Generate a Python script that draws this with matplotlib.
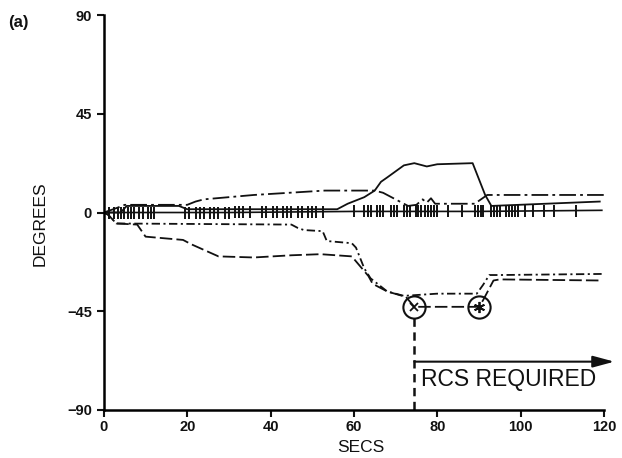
import matplotlib
matplotlib.use("Agg")
import matplotlib.pyplot as plt
import numpy as np

plt.rcParams['font.family'] = ['Liberation Sans', 'DejaVu Sans']
plt.rcParams['lines.scale_dashes'] = False

# trace with tick marks (secs, degrees)
hatch_t = [0, 30, 60, 90, 119.5]
hatch_v = [0, 0, 0.5, 0.5, 1]
hatch_ticks = [1.2, 2.4, 3.4, 4.1, 4.9, 5.8, 6.6, 7.3, 8.5, 9.5, 10.7, 11.4, 12.1,
               19.5, 20.5, 22, 23, 24, 25.5, 26.5, 27.5, 29, 30, 31.5, 32.5, 33.5, 35,
               38, 39, 40.5, 41.5, 43, 44, 45, 46.5, 47.5, 49, 50, 51, 52.5,
               60, 62.5, 63.3, 64, 65.5, 66.2, 67, 69, 69.7, 70.4, 72, 72.7, 73.4,
               74.8, 75.5, 76.2, 77, 77.7, 78.5, 79.3, 80,
               82.5, 86, 89, 89.7, 90.4, 91, 93, 93.7, 94.4, 95.1, 96.5, 97.2, 97.9,
               98.6, 99.3, 101, 103, 105.6, 108, 113.3]

# upper dash-dot trace
dashdot_t = [0, 3, 5, 20, 22, 24, 36, 53, 65, 67, 69, 71, 73, 75, 76.5, 77.5,
             78.5, 79.5, 81, 89, 90.5, 92, 120]
dashdot_v = [0, 2, 3.5, 3.5, 5, 6, 8, 10, 10, 9, 7, 5, 3, 3.5, 6, 4.5,
             6.5, 4, 4, 4, 6, 8, 8]

# upper solid trace
solid_t = [0, 4, 5.5, 18, 20, 56, 58.5, 62.5, 65, 66.5, 68, 72, 74.5, 77.5,
           80, 88.5, 91.5, 93, 119]
solid_v = [0, 0, 3, 3, 1.5, 1.5, 4, 7, 10, 14, 16, 21.5, 22.5, 21,
           22, 22.5, 8, 3, 5]

# lower dash-dot-dot trace
dotdot_t = [0, 1, 3, 45, 46.5, 48, 52.5, 53.5, 59.5, 60.5, 62.5, 64, 66,
            68, 72, 80, 89.5, 91, 92.5, 95, 120]
dotdot_v = [0, -1, -5, -5.5, -7, -8, -8.5, -13, -14, -16, -25.5, -30, -33,
            -36, -38, -37, -37, -33, -28.5, -28.5, -28]

# lower long-dash trace
longdash_t = [0, 1, 3, 8, 10, 19, 21, 27.5, 36, 45, 52, 59.5, 61.5, 63.5,
              64.5, 68, 72.5, 74.5, 90, 91, 93.5, 95, 119.5]
longdash_v = [0, -1, -5, -5.5, -11, -12.5, -14.5, -20, -20.5, -19.5, -19, -20,
              -24.5, -29, -32.5, -36, -38.5, -43, -43, -40, -31, -30.5, -31]

circle_t = [74.5, 90]
circle_v = [-43, -43]

rcs_t = 74.5
rcs_level = -68
rcs_end = 122.5

ink = '#111111'

fig = plt.figure(figsize=(6.22, 4.58), dpi=100)
ax = fig.add_axes([0.167, 0.105, 0.824, 0.862])

ax.plot(hatch_t, hatch_v, color=ink, lw=1.2)
ax.plot(hatch_ticks, np.interp(hatch_ticks, hatch_t, hatch_v), ls='none',
        marker='|', ms=8, mew=1.4, color=ink)

ax.plot(dashdot_t, dashdot_v, color=ink, lw=1.3, dashes=(12, 3, 2, 3))
ax.plot(solid_t, solid_v, color=ink, lw=1.3)
ax.plot(dotdot_t, dotdot_v, color=ink, lw=1.3, dashes=(6, 2.5, 1.5, 2.5))
ax.plot(longdash_t, longdash_v, color=ink, lw=1.3, dashes=(9, 3))

ax.plot(circle_t, circle_v, ls='none', marker='o', ms=16, mfc='none',
        mec=ink, mew=1.5)
ax.plot(circle_t[:1], circle_v[:1], ls='none', marker='x', ms=6, mew=1.3, color=ink)
ax.plot(circle_t[1:], circle_v[1:], ls='none', marker=(6, 2, 0), ms=8, mew=1.3, color=ink)

# RCS marker
ax.plot([rcs_t, rcs_t], [circle_v[0] - 5, -90], color=ink, lw=1.8, dashes=(6, 4))
ax.annotate('', xy=(rcs_end, rcs_level), xytext=(rcs_t, rcs_level),
            arrowprops=dict(arrowstyle='-|>,head_length=1.3,head_width=0.35',
                            lw=1.5, color=ink, mutation_scale=10, shrinkA=0, shrinkB=0),
            annotation_clip=False)
ax.text(rcs_t + 1.5, -76, 'RCS REQUIRED', fontsize=16.5, va='center', ha='left', color=ink)

ax.set_xlim(0, 123)
ax.set_ylim(-90, 90)
ax.spines['top'].set_visible(False)
ax.spines['right'].set_visible(False)
ax.spines['left'].set_linewidth(1.8)
ax.spines['bottom'].set_linewidth(1.8)
ax.spines['bottom'].set_bounds(0, 120)
ax.set_xticks([0, 20, 40, 60, 80, 100, 120])
ax.set_yticks([-90, -45, 0, 45, 90])
ax.set_yticklabels(['\u221290', '\u221245', '0', '45', '90'])
ax.tick_params(direction='out', length=5, width=1.5, labelsize=10.5, colors=ink)
ax.tick_params(axis='x', pad=2)
for lab in ax.get_xticklabels() + ax.get_yticklabels():
    lab.set_fontweight('bold')

fig.text(40 / 622, 1 - 224 / 458, 'DEGREES', rotation=90, ha='center', va='center',
         fontsize=12.5, color=ink)
fig.text(361 / 622, 1 - 448 / 458, 'SECS', ha='center', va='center', fontsize=12.5, color=ink)
fig.text(8 / 622, 1 - 22 / 458, '(a)', ha='left', va='center', fontsize=12,
         fontweight='bold', color=ink)

fig.savefig('out.png', dpi=100)
